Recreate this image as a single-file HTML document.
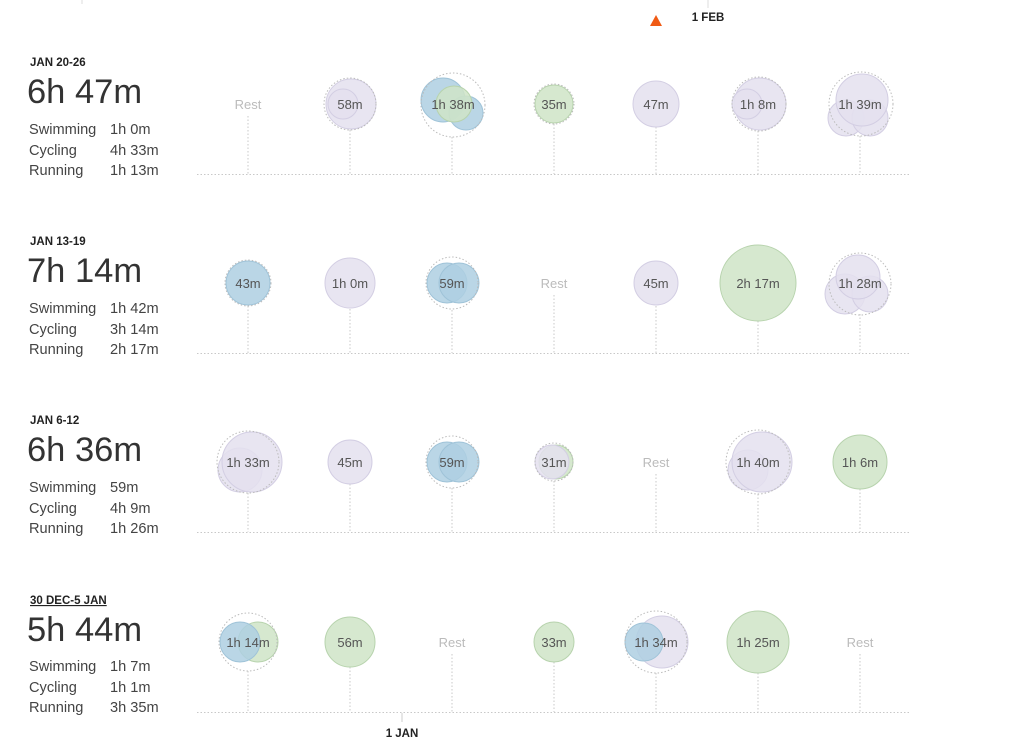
<!DOCTYPE html>
<html><head><meta charset="utf-8"><style>
html,body{margin:0;padding:0;background:#fff;}
svg{display:block;font-family:"Liberation Sans",sans-serif;}
.lbl{font-size:13px;fill:#555;text-anchor:middle;}
.rest{font-size:13px;fill:#bbb;text-anchor:middle;}
.wk{font-size:11.5px;font-weight:bold;fill:#222;}
.big{font-size:34.5px;fill:#333;}
.sm{font-size:14.6px;fill:#444;}
.p{fill:#e4e0ef;fill-opacity:.85;stroke:#d3cee3;}
.b{fill:#aecfe2;fill-opacity:.85;stroke:#9fc3d8;}
.g{fill:#cfe4c7;fill-opacity:.85;stroke:#b7d3ad;}
.ring{fill:none;stroke:#bbb;stroke-dasharray:1.5 2;}
.dl{stroke:#c8c8c8;stroke-dasharray:1.5 2;}
</style></head><body>
<svg width="1024" height="752" viewBox="0 0 1024 752">
<line x1="82" y1="0" x2="82" y2="4" stroke="#ddd"/>
<line x1="708" y1="0" x2="708" y2="8" stroke="#ddd"/>
<text x="708" y="21" class="wk" text-anchor="middle">1 FEB</text>
<polygon points="650,26 662,26 656,15" fill="#f05a14"/>

<!-- Row 1 -->
<g>
<text x="30" y="66" class="wk">JAN 20-26</text>
<text x="27" y="103" class="big">6h 47m</text>
<text x="29" y="134" class="sm">Swimming</text><text x="110" y="134" class="sm">1h 0m</text>
<text x="29" y="155" class="sm">Cycling</text><text x="110" y="155" class="sm">4h 33m</text>
<text x="29" y="175" class="sm">Running</text><text x="110" y="175" class="sm">1h 13m</text>
<line x1="197" y1="174.5" x2="910" y2="174.5" class="dl"/>
<line x1="248" y1="116" x2="248" y2="174" class="dl"/>
<line x1="350" y1="130" x2="350" y2="174" class="dl"/>
<line x1="452" y1="137" x2="452" y2="174" class="dl"/>
<line x1="554" y1="124" x2="554" y2="174" class="dl"/>
<line x1="656" y1="127" x2="656" y2="174" class="dl"/>
<line x1="758" y1="131" x2="758" y2="174" class="dl"/>
<line x1="860" y1="136" x2="860" y2="174" class="dl"/>
<text x="248" y="109" class="rest">Rest</text>
<circle cx="351" cy="104" r="25" class="p"/><circle cx="343" cy="104" r="15" class="p"/><circle cx="350" cy="104" r="26" class="ring"/>
<circle cx="443" cy="100" r="22" class="b"/><circle cx="466" cy="113" r="17" class="b"/><circle cx="454" cy="104" r="18" class="g"/><circle cx="453" cy="105" r="32" class="ring"/>
<circle cx="554" cy="104" r="19" class="g"/><circle cx="554" cy="104" r="20" class="ring"/>
<circle cx="656" cy="104" r="23" class="p"/>
<circle cx="760" cy="104" r="26" class="p"/><circle cx="747" cy="104" r="15" class="p"/><circle cx="759" cy="104" r="27" class="ring"/>
<circle cx="846" cy="118" r="18" class="p"/><circle cx="870" cy="118" r="18" class="p"/><circle cx="862" cy="100" r="26" class="p"/><circle cx="861" cy="104" r="32" class="ring"/>
<text x="350" y="109" class="lbl">58m</text><text x="453" y="109" class="lbl">1h 38m</text><text x="554" y="109" class="lbl">35m</text><text x="656" y="109" class="lbl">47m</text><text x="758" y="109" class="lbl">1h 8m</text><text x="860" y="109" class="lbl">1h 39m</text>
</g>

<!-- Row 2 -->
<g>
<text x="30" y="245" class="wk">JAN 13-19</text>
<text x="27" y="282" class="big">7h 14m</text>
<text x="29" y="313" class="sm">Swimming</text><text x="110" y="313" class="sm">1h 42m</text>
<text x="29" y="334" class="sm">Cycling</text><text x="110" y="334" class="sm">3h 14m</text>
<text x="29" y="354" class="sm">Running</text><text x="110" y="354" class="sm">2h 17m</text>
<line x1="197" y1="353.5" x2="910" y2="353.5" class="dl"/>
<line x1="248" y1="306" x2="248" y2="353" class="dl"/>
<line x1="350" y1="309" x2="350" y2="353" class="dl"/>
<line x1="452" y1="310" x2="452" y2="353" class="dl"/>
<line x1="554" y1="295" x2="554" y2="353" class="dl"/>
<line x1="656" y1="306" x2="656" y2="353" class="dl"/>
<line x1="758" y1="321" x2="758" y2="353" class="dl"/>
<line x1="860" y1="314" x2="860" y2="353" class="dl"/>
<circle cx="248" cy="283" r="22" class="b"/><circle cx="248" cy="283" r="23" class="ring"/>
<circle cx="350" cy="283" r="25" class="p"/>
<circle cx="447" cy="283" r="20" class="b"/><circle cx="459" cy="283" r="20" class="b"/><circle cx="452" cy="283" r="26" class="ring"/>
<text x="554" y="288" class="rest">Rest</text>
<circle cx="656" cy="283" r="22" class="p"/>
<circle cx="758" cy="283" r="38" class="g"/>
<circle cx="845" cy="294" r="20" class="p"/><circle cx="870" cy="294" r="18" class="p"/><circle cx="858" cy="277" r="22" class="p"/><circle cx="860" cy="284" r="31" class="ring"/>
<text x="248" y="288" class="lbl">43m</text><text x="350" y="288" class="lbl">1h 0m</text><text x="452" y="288" class="lbl">59m</text><text x="656" y="288" class="lbl">45m</text><text x="758" y="288" class="lbl">2h 17m</text><text x="860" y="288" class="lbl">1h 28m</text>
</g>

<!-- Row 3 -->
<g>
<text x="30" y="424" class="wk">JAN 6-12</text>
<text x="27" y="461" class="big">6h 36m</text>
<text x="29" y="492" class="sm">Swimming</text><text x="110" y="492" class="sm">59m</text>
<text x="29" y="513" class="sm">Cycling</text><text x="110" y="513" class="sm">4h 9m</text>
<text x="29" y="533" class="sm">Running</text><text x="110" y="533" class="sm">1h 26m</text>
<line x1="197" y1="532.5" x2="910" y2="532.5" class="dl"/>
<line x1="248" y1="493" x2="248" y2="532" class="dl"/>
<line x1="350" y1="484" x2="350" y2="532" class="dl"/>
<line x1="452" y1="488" x2="452" y2="532" class="dl"/>
<line x1="554" y1="481" x2="554" y2="532" class="dl"/>
<line x1="656" y1="474" x2="656" y2="532" class="dl"/>
<line x1="758" y1="494" x2="758" y2="532" class="dl"/>
<line x1="860" y1="489" x2="860" y2="532" class="dl"/>
<circle cx="240" cy="470" r="22" class="p"/><circle cx="252" cy="462" r="30" class="p"/><circle cx="248" cy="462" r="31" class="ring"/>
<circle cx="350" cy="462" r="22" class="p"/>
<circle cx="447" cy="462" r="20" class="b"/><circle cx="459" cy="462" r="20" class="b"/><circle cx="452" cy="462" r="26" class="ring"/>
<circle cx="556" cy="462" r="17" class="g"/><circle cx="552" cy="462" r="17" class="p"/><circle cx="554" cy="462" r="19" class="ring"/>
<text x="656" y="467" class="rest">Rest</text>
<circle cx="748" cy="470" r="20" class="p"/><circle cx="762" cy="462" r="30" class="p"/><circle cx="758" cy="462" r="32" class="ring"/>
<circle cx="860" cy="462" r="27" class="g"/>
<text x="248" y="467" class="lbl">1h 33m</text><text x="350" y="467" class="lbl">45m</text><text x="452" y="467" class="lbl">59m</text><text x="554" y="467" class="lbl">31m</text><text x="758" y="467" class="lbl">1h 40m</text><text x="860" y="467" class="lbl">1h 6m</text>
</g>

<!-- Row 4 -->
<g>
<text x="30" y="604" class="wk" text-decoration="underline">30 DEC-5 JAN</text>
<text x="27" y="641" class="big">5h 44m</text>
<text x="29" y="671" class="sm">Swimming</text><text x="110" y="671" class="sm">1h 7m</text>
<text x="29" y="692" class="sm">Cycling</text><text x="110" y="692" class="sm">1h 1m</text>
<text x="29" y="712" class="sm">Running</text><text x="110" y="712" class="sm">3h 35m</text>
<line x1="197" y1="712.5" x2="910" y2="712.5" class="dl"/>
<line x1="248" y1="671" x2="248" y2="712" class="dl"/>
<line x1="350" y1="667" x2="350" y2="712" class="dl"/>
<line x1="452" y1="654" x2="452" y2="712" class="dl"/>
<line x1="554" y1="662" x2="554" y2="712" class="dl"/>
<line x1="656" y1="673" x2="656" y2="712" class="dl"/>
<line x1="758" y1="673" x2="758" y2="712" class="dl"/>
<line x1="860" y1="654" x2="860" y2="712" class="dl"/>
<circle cx="258" cy="642" r="20" class="g"/><circle cx="240" cy="642" r="20" class="b"/><circle cx="248" cy="642" r="29" class="ring"/>
<circle cx="350" cy="642" r="25" class="g"/>
<text x="452" y="647" class="rest">Rest</text>
<circle cx="554" cy="642" r="20" class="g"/>
<circle cx="662" cy="642" r="26" class="p"/><circle cx="644" cy="642" r="19" class="b"/><circle cx="656" cy="642" r="31" class="ring"/>
<circle cx="758" cy="642" r="31" class="g"/>
<text x="860" y="647" class="rest">Rest</text>
<text x="248" y="647" class="lbl">1h 14m</text><text x="350" y="647" class="lbl">56m</text><text x="554" y="647" class="lbl">33m</text><text x="656" y="647" class="lbl">1h 34m</text><text x="758" y="647" class="lbl">1h 25m</text>
<line x1="402" y1="713" x2="402" y2="722" stroke="#ccc"/>
<text x="402" y="737" class="wk" text-anchor="middle">1 JAN</text>
</g>
</svg>
</body></html>
